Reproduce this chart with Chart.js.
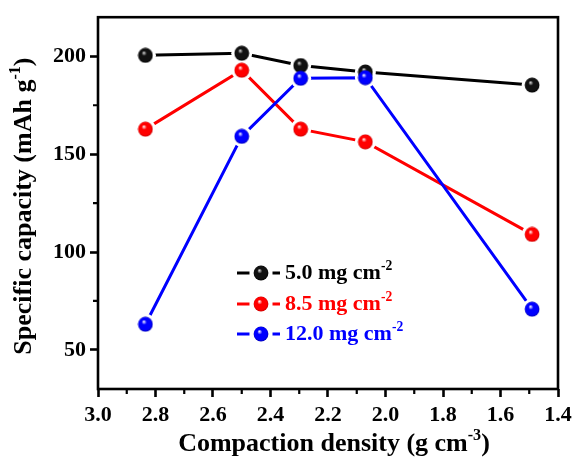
<!DOCTYPE html>
<html>
<head>
<meta charset="utf-8">
<script src="https://cdn.jsdelivr.net/npm/chart.js@4.4.1/dist/chart.umd.min.js"></script>
<style>
html, body { margin: 0; padding: 0; background: #fff; }
canvas { display: block; }
</style>
</head>
<body>
<canvas id="chart" width="579" height="459"></canvas>
<script>
// compaction density (g cm-3) of the five electrodes
var density = [2.835, 2.5, 2.295, 2.07, 1.49];
// specific capacity (mAh g-1) for each areal loading
var cap5 = [200.5, 201.6, 195.3, 192.0, 185.3];
var cap85 = [162.8, 192.9, 162.8, 156.3, 109.0];
var cap12 = [63.1, 159.1, 188.8, 189.1, 70.8];
var loadings = ['5.0 mg cm', '8.5 mg cm', '12.0 mg cm'];

var xMin = 1.4, xMax = 3.0, xStep = 0.1;
var yMin = 30, yMax = 220, yStep = 25;

var FONT = '"Liberation Serif", "Times New Roman", serif';

function sphere(base, hi, edge) {
    var c = document.createElement('canvas');
    c.width = 16;
    c.height = 16;
    var g = c.getContext('2d');
    var grd = g.createRadialGradient(6.3, 5.3, 0.3, 8, 8, 7.6);
    grd.addColorStop(0, hi);
    grd.addColorStop(0.3, base);
    grd.addColorStop(0.8, base);
    grd.addColorStop(1, edge);
    g.fillStyle = grd;
    g.beginPath();
    g.arc(8, 8, 7.4, 0, Math.PI * 2);
    g.fill();
    return c;
}

var series = [
    { name: loadings[0], values: cap5, color: '#000000', sprite: sphere('#111111', '#d0d0d0', '#000000'), order: 2 },
    { name: loadings[1], values: cap85, color: '#ff0000', sprite: sphere('#ff0000', '#fff0f0', '#c80000'), order: 1 },
    { name: loadings[2], values: cap12, color: '#0000ff', sprite: sphere('#0000ff', '#f0f0ff', '#0000b4'), order: 0 }
];

function pts(ys) {
    return density.map(function(x, i) { return { x: x, y: ys[i] }; });
}

var datasets = [];
series.forEach(function(s) {
    // the line
    datasets.push({
        label: s.name,
        data: pts(s.values),
        showLine: true,
        borderColor: s.color,
        borderWidth: 3,
        pointRadius: 0,
        order: 20 + s.order
    });
    // white gap round each symbol
    datasets.push({
        data: pts(s.values),
        showLine: false,
        pointStyle: 'circle',
        pointRadius: 10.5,
        pointBackgroundColor: '#ffffff',
        pointBorderWidth: 0,
        order: 10
    });
    // the ball
    datasets.push({
        data: pts(s.values),
        showLine: false,
        pointStyle: s.sprite,
        pointRadius: 8,
        pointBorderWidth: 0,
        order: s.order
    });
});

function isMajorX(v) { return Math.round(v * 10) % 2 === 0; }
function isMajorY(v) { return Math.round(v) % 50 === 0; }

// text with a superscript part
function richText(ctx, parts, x, y, size, align) {
    var w = 0;
    parts.forEach(function(p) {
        ctx.font = 'bold ' + (p.sup ? size * 0.62 : size) + 'px ' + FONT;
        p.w = ctx.measureText(p.t).width;
        w += p.w;
    });
    var cx = align === 'center' ? x - w / 2 : x;
    ctx.textAlign = 'left';
    ctx.textBaseline = 'alphabetic';
    parts.forEach(function(p) {
        ctx.font = 'bold ' + (p.sup ? size * 0.62 : size) + 'px ' + FONT;
        ctx.fillText(p.t, cx, p.sup ? y - size * 0.42 : y);
        cx += p.w;
    });
}

var decor = {
    id: 'decor',
    afterDraw: function(chart) {
        var ctx = chart.ctx;
        var a = chart.chartArea;
        var xs = chart.scales.x, ys = chart.scales.y;
        ctx.save();
        // frame
        ctx.strokeStyle = '#000';
        ctx.lineWidth = 2.6;
        ctx.strokeRect(a.left, a.top, a.right - a.left, a.bottom - a.top);
        // minor ticks
        ctx.lineWidth = 2.2;
        ctx.beginPath();
        xs.ticks.forEach(function(t) {
            if (!isMajorX(t.value)) {
                var px = xs.getPixelForValue(t.value);
                ctx.moveTo(px, a.bottom);
                ctx.lineTo(px, a.bottom + 5);
            }
        });
        ys.ticks.forEach(function(t) {
            if (!isMajorY(t.value)) {
                var py = ys.getPixelForValue(t.value);
                ctx.moveTo(a.left, py);
                ctx.lineTo(a.left - 5, py);
            }
        });
        ctx.stroke();

        // axis titles
        ctx.fillStyle = '#000';
        richText(ctx, [{ t: 'Compaction density (g cm' }, { t: '-3', sup: true }, { t: ')' }],
            (a.left + a.right) / 2 + 6, 451, 26, 'center');
        ctx.save();
        ctx.translate(31, (a.top + a.bottom) / 2 + 3);
        ctx.rotate(-Math.PI / 2);
        richText(ctx, [{ t: 'Specific capacity (mAh g' }, { t: '-1', sup: true }, { t: ')' }],
            0, 0, 26, 'center');
        ctx.restore();

        // legend
        var rows = [279, 310, 340];
        series.forEach(function(s, i) {
            var yb = rows[i];
            var ym = yb - 6;
            ctx.strokeStyle = s.color;
            ctx.lineWidth = 3;
            ctx.beginPath();
            ctx.moveTo(237, ym);
            ctx.lineTo(249.5, ym);
            ctx.moveTo(272.5, ym);
            ctx.lineTo(280, ym);
            ctx.stroke();
            ctx.drawImage(s.sprite, 261 - 8, ym - 8);
            ctx.fillStyle = s.color;
            richText(ctx, [{ t: s.name }, { t: '-2', sup: true }], 285, yb, 22, 'left');
        });
        ctx.restore();
    }
};

new Chart(document.getElementById('chart'), {
    type: 'scatter',
    data: { datasets: datasets },
    plugins: [decor],
    options: {
        responsive: false,
        animation: false,
        events: [],
        devicePixelRatio: 1,
        layout: { padding: { top: 17, right: 21, left: 0, bottom: 0 } },
        plugins: {
            legend: { display: false },
            tooltip: { enabled: false }
        },
        scales: {
            x: {
                type: 'linear',
                reverse: true,
                min: xMin,
                max: xMax,
                afterFit: function(scale) { scale.height = 70; },
                border: { display: false },
                grid: {
                    drawOnChartArea: false,
                    drawTicks: true,
                    tickLength: 8,
                    tickWidth: 2.6,
                    tickColor: function(c) { return isMajorX(c.tick.value) ? '#000' : 'rgba(0,0,0,0)'; }
                },
                ticks: {
                    stepSize: xStep,
                    autoSkip: false,
                    maxRotation: 0,
                    padding: 5,
                    color: '#000',
                    font: { family: FONT, weight: 'bold', size: 22 },
                    callback: function(v) { return isMajorX(v) ? Number(v).toFixed(1) : ''; }
                }
            },
            y: {
                type: 'linear',
                min: yMin,
                max: yMax,
                afterFit: function(scale) { scale.width = 98; },
                border: { display: false },
                grid: {
                    drawOnChartArea: false,
                    drawTicks: true,
                    tickLength: 8,
                    tickWidth: 2.6,
                    tickColor: function(c) { return isMajorY(c.tick.value) ? '#000' : 'rgba(0,0,0,0)'; }
                },
                ticks: {
                    stepSize: yStep,
                    includeBounds: false,
                    autoSkip: false,
                    padding: 4,
                    color: '#000',
                    font: { family: FONT, weight: 'bold', size: 22 },
                    callback: function(v) { return isMajorY(v) ? String(v) : ''; }
                }
            }
        }
    }
});
</script>
</body>
</html>
